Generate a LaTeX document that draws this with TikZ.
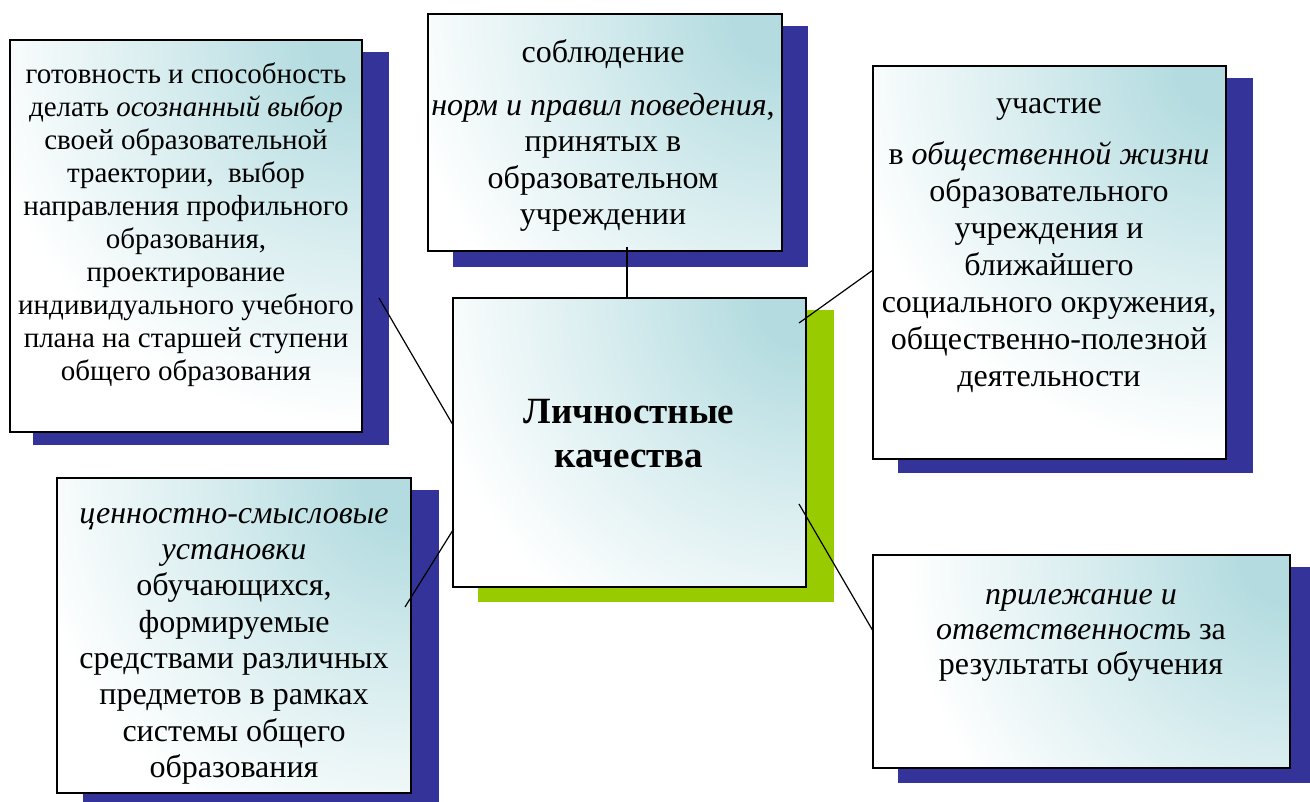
\documentclass[tikz,border=0pt]{standalone}
\usepackage{fontspec}
\setmainfont{Liberation Serif}
\usetikzlibrary{shadings}
\definecolor{shblue}{RGB}{51,51,153}
\definecolor{shgreen}{RGB}{153,204,0}
\definecolor{tealc}{RGB}{180,220,224}
\pgfdeclareradialshading{glow}{\pgfpointorigin}{color(0bp)=(tealc); color(3bp)=(tealc); color(12.5bp)=(tealc!50!white); color(23bp)=(white); color(50bp)=(white)}
\newcommand\glowcard[1]{%
  \begin{scope}
    \clip (#1.south west) rectangle (#1.north east);
    \shade[shading=glow, shift={(#1.north east)}] (-420,-420) rectangle (420,420);
  \end{scope}
  \draw[cardline] (#1.south west) rectangle (#1.north east);}
\begin{document}
\begin{tikzpicture}[x=1pt,y=-1pt,
  shadowbox/.style={fill=shblue, draw=none, anchor=north west, inner sep=0pt, outer sep=0pt},
  card/.style={fill=white, draw=none, anchor=north west, inner sep=0pt, outer sep=0pt},
  cardline/.style={draw=black, line width=1.6pt},
  txt/.style={align=center, inner sep=0pt, anchor=north, font=\fontsize{32}{36.5}\selectfont},
  link/.style={line width=1.2pt, draw=black}]
\useasboundingbox (0,0) rectangle (1310,802);
% shadows
\node[shadowbox, minimum width=356pt, minimum height=393pt] (As) at (33,52) {};
\node[shadowbox, minimum width=355pt, minimum height=241pt] (Bs) at (453,26) {};
\node[shadowbox, minimum width=355pt, minimum height=395pt] (Ds) at (898,78) {};
\node[shadowbox, minimum width=356pt, minimum height=312pt] (Es) at (83,490) {};
\node[shadowbox, minimum width=412pt, minimum height=216pt] (Fs) at (898,567) {};
\node[shadowbox, fill=shgreen, minimum width=356pt, minimum height=292pt] (Cs) at (478,310) {};
% cards
\node[card, minimum width=352pt, minimum height=392pt] (A) at (10,40) {};
\node[card, minimum width=354pt, minimum height=237pt] (B) at (428,14) {};
\node[card, minimum width=353pt, minimum height=393pt] (D) at (873,66) {};
\node[card, minimum width=354pt, minimum height=315pt] (E) at (57,478) {};
\node[card, minimum width=417pt, minimum height=213pt] (F) at (873,555) {};
\node[card, minimum width=353pt, minimum height=289pt] (C) at (453,298) {};
\glowcard{A}\glowcard{B}\glowcard{D}\glowcard{E}\glowcard{F}\glowcard{C}
% texts
\node[txt, font=\fontsize{29}{33}\selectfont] (At) at (186,62.5) {готовность и способность\\ делать \textit{осознанный выбор}\\ своей образовательной\\ траектории,~ выбор\\ направления профильного\\ образования,\\ проектирование\\ индивидуального учебного\\ плана на старшей ступени\\ общего образования};
\node[txt] (Bt) at (603,39) {соблюдение\\[16.5pt] \textit{норм и правил поведения},\\ принятых в\\ образовательном\\ учреждении};
\node[txt, font=\fontsize{32}{37}\selectfont] (Dt) at (1049,98) {участие\\[14pt] в \textit{общественной жизни}\\ образовательного\\ учреждения и\\ ближайшего\\ социального окружения,\\ общественно-полезной\\ деятельности};
\node[txt, font=\fontsize{32}{36.3}\selectfont] (Et) at (234,508) {\textit{ценностно-смысловые}\\ \textit{установки}\\ обучающихся,\\ формируемые\\ средствами различных\\ предметов в рамках\\ системы общего\\ образования};
\node[txt, font=\fontsize{32}{35}\selectfont] (Ft) at (1081,589) {\textit{прилежание и}\\ \textit{ответственност}ь за\\ результаты обучения};
\node[txt, anchor=center, font=\fontsize{37}{44}\selectfont\bfseries] (Ct) at (629,434) {Личностные\\ качества};
% connectors
\coordinate (a1) at (379,298); \coordinate (a2) at (453,425);
\coordinate (b1) at (627,247); \coordinate (b2) at (627,298);
\coordinate (d1) at (799,323); \coordinate (d2) at (873,270);
\coordinate (e1) at (405,607); \coordinate (e2) at (453,530);
\coordinate (f1) at (799,504); \coordinate (f2) at (873,631);
\draw[link] (a1) -- (a2);
\draw[link] (b1) -- (b2);
\draw[link] (d1) -- (d2);
\draw[link] (e1) -- (e2);
\draw[link] (f1) -- (f2);
\end{tikzpicture}
\end{document}
